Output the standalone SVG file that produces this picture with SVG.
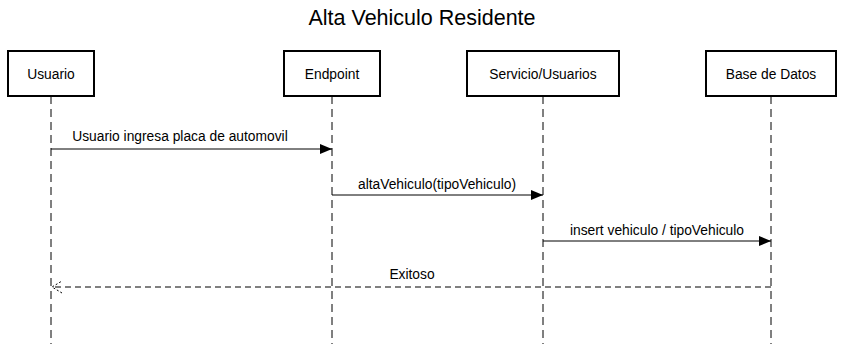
<svg xmlns="http://www.w3.org/2000/svg" width="845" height="344" viewBox="0 0 845 344">
  <style>
    text { font-family: "Liberation Sans", Arial, sans-serif; fill: #000; }
    .title { font-size: 21.5px; text-anchor: middle; }
    .lbl { font-size: 13.8px; text-anchor: middle; }
    .box { fill: #fff; stroke: #000; stroke-width: 2; }
    .life { stroke: #000; stroke-width: 1; stroke-dasharray: 8 5; fill: none; }
    .msg { stroke: #000; stroke-width: 1; fill: none; }
    .ret { stroke: #000; stroke-width: 1; fill: none; stroke-dasharray: 6 4; }
  </style>
  <defs>
    <marker id="solidArrow" markerWidth="12" markerHeight="10" refX="12" refY="5" orient="auto" markerUnits="userSpaceOnUse">
      <path d="M0,0 L12,5 L0,10 Z" fill="#000"/>
    </marker>
    <marker id="openArrow" markerWidth="12" markerHeight="14" refX="11" refY="7" orient="auto" markerUnits="userSpaceOnUse">
      <path d="M1,1 L11,7 L1,13" fill="none" stroke="#000" stroke-width="1" stroke-dasharray="2 2"/>
    </marker>
  </defs>

  <rect width="845" height="344" fill="#fff"/>

  <text class="title" x="422" y="25">Alta Vehiculo Residente</text>

  <!-- lifelines -->
  <g id="lifelines">
    <line class="life" x1="51" y1="96" x2="51" y2="344"/>
    <line class="life" x1="332" y1="96" x2="332" y2="344"/>
    <line class="life" x1="543" y1="96" x2="543" y2="344"/>
    <line class="life" x1="771" y1="96" x2="771" y2="344"/>
  </g>

  <!-- participants -->
  <g id="usuario">
    <rect class="box" x="8" y="51" width="86" height="45"/>
    <text class="lbl" x="51" y="79">Usuario</text>
  </g>
  <g id="endpoint">
    <rect class="box" x="284" y="51" width="96" height="45"/>
    <text class="lbl" x="332" y="79">Endpoint</text>
  </g>
  <g id="servicio">
    <rect class="box" x="467" y="51" width="152" height="45"/>
    <text class="lbl" x="543" y="79">Servicio/Usuarios</text>
  </g>
  <g id="basedatos">
    <rect class="box" x="706" y="51" width="130" height="45"/>
    <text class="lbl" x="771" y="79">Base de Datos</text>
  </g>

  <!-- messages -->
  <g id="connectors">
    <line class="msg" x1="51" y1="149" x2="332" y2="149" marker-end="url(#solidArrow)"/>
    <text class="lbl" x="180" y="141">Usuario ingresa placa de automovil</text>

    <line class="msg" x1="332" y1="195" x2="543" y2="195" marker-end="url(#solidArrow)"/>
    <text class="lbl" x="437" y="189">altaVehiculo(tipoVehiculo)</text>

    <line class="msg" x1="543" y1="241" x2="771" y2="241" marker-end="url(#solidArrow)"/>
    <text class="lbl" x="657" y="235">insert vehiculo / tipoVehiculo</text>

    <line class="ret" x1="771" y1="287" x2="52" y2="287" marker-end="url(#openArrow)"/>
    <text class="lbl" x="412" y="279">Exitoso</text>
  </g>
</svg>
